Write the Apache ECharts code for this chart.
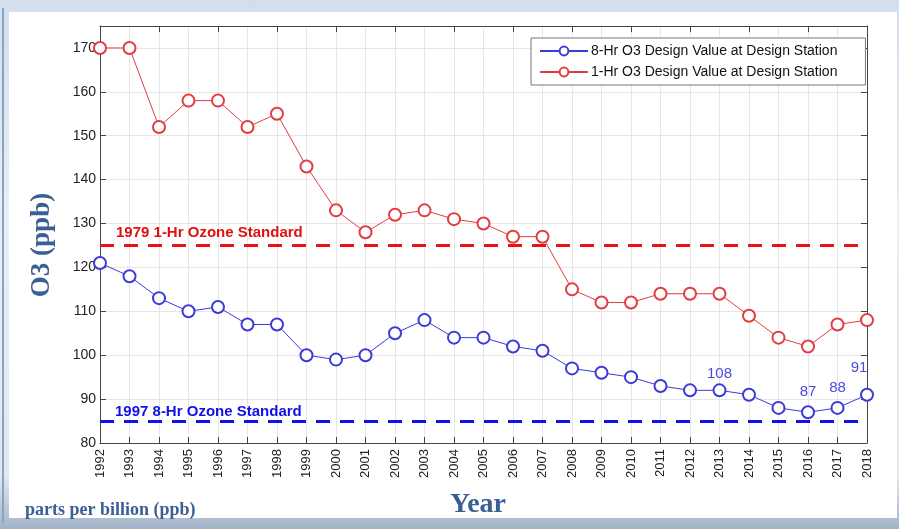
<!DOCTYPE html>
<html>
<head>
<meta charset="utf-8">
<script src="https://cdn.jsdelivr.net/npm/echarts@6/dist/echarts.min.js"></script>
<style>
  html, body { margin: 0; padding: 0; }
  body {
    width: 899px; height: 529px; overflow: hidden; position: relative;
    background: linear-gradient(180deg, #d3deec 0%, #e8eef5 40%, #e2e8f0 90%, #a3b3c8 100%);
  }
  #panel {
    position: absolute; left: 9px; top: 12px; width: 888px; height: 506px;
    background: #ffffff;
  }
  #edge {
    position: absolute; left: 2px; top: 8px; width: 2px; height: 515px; background: #8aa3c4;
  }
  #chart { position: absolute; left: 0; top: 0; width: 899px; height: 529px; }
</style>
</head>
<body>
<div id="edge"></div>
<div id="panel"></div>
<div id="chart"></div>
<script>
  // 年份
  var years = ['1992', '1993', '1994', '1995', '1996', '1997', '1998', '1999', '2000',
    '2001', '2002', '2003', '2004', '2005', '2006', '2007', '2008', '2009', '2010',
    '2011', '2012', '2013', '2014', '2015', '2016', '2017', '2018'];
  // 8小时设计值
  var eightHr = [121, 118, 113, 110, 111, 107, 107, 100, 99, 100, 105, 108, 104, 104,
    102, 101, 97, 96, 95, 93, 92, 92, 91, 88, 87, 88, 91];
  // 1小时设计值
  var oneHr = [170, 170, 152, 158, 158, 152, 155, 143, 133, 128, 132, 133, 131, 130,
    127, 127, 115, 112, 112, 114, 114, 114, 109, 104, 102, 107, 108];
  // 图上的数字标注
  var noteYears = ['2013', '2016', '2017', '2018'];
  var noteTexts = ['108', '87', '88', '91'];
  // 标准线
  var std1Hr = 125;
  var std8Hr = 85;

  var blue = '#3b3bd8';
  var red = '#e23c40';

  var eightData = eightHr.map(function(v, i) {
    var k = noteYears.indexOf(years[i]);
    if (k < 0) return v;
    return {
      value: v,
      label: {
        show: true,
        formatter: noteTexts[k],
        position: 'top',
        distance: years[i] === '2013' ? 2 : 6,
        offset: years[i] === '2018' ? [-8, -6] : [0, 0],
        color: '#4a4ae6',
        fontSize: 15,
        fontFamily: 'Liberation Sans'
      }
    };
  });

  var myChart = echarts.init(document.getElementById('chart'));

  var option = {
    animation: false,
    textStyle: { fontFamily: 'Liberation Sans' },
    grid: { left: 100, right: 32, top: 26, bottom: 86 },
    legend: {
      orient: 'vertical',
      left: 531,
      top: 38,
      padding: [6, 28, 6, 8],
      itemGap: 7,
      itemWidth: 48,
      itemHeight: 11,
      borderColor: '#777',
      borderWidth: 1,
      backgroundColor: '#fff',
      textStyle: { fontSize: 14, color: '#111', padding: [0, 0, 0, -2] },
      data: ['8-Hr O3 Design Value at Design Station', '1-Hr O3 Design Value at Design Station']
    },
    xAxis: [{
      type: 'category',
      data: years,
      boundaryGap: false,
      axisLine: { lineStyle: { color: '#444' } },
      axisTick: { inside: true, length: 6, lineStyle: { color: '#444' } },
      axisLabel: { rotate: 90, fontSize: 13, color: '#222', margin: 6, interval: 0 },
      splitLine: { show: true, lineStyle: { color: '#e6e6e6' } }
    }, {
      type: 'category',
      data: years,
      boundaryGap: false,
      position: 'top',
      axisLine: { lineStyle: { color: '#444' } },
      axisTick: { inside: true, length: 6, lineStyle: { color: '#444' } },
      axisLabel: { show: false }
    }],
    yAxis: [{
      type: 'value',
      min: 80,
      max: 175,
      interval: 10,
      axisLine: { show: true, lineStyle: { color: '#444' } },
      axisTick: { show: true, inside: true, length: 6, lineStyle: { color: '#444' } },
      axisLabel: { fontSize: 14, color: '#222', margin: 4, showMaxLabel: false },
      splitLine: { show: true, lineStyle: { color: '#e6e6e6' } }
    }, {
      type: 'value',
      min: 80,
      max: 175,
      interval: 10,
      position: 'right',
      axisLine: { show: true, lineStyle: { color: '#444' } },
      axisTick: { show: true, inside: true, length: 6, lineStyle: { color: '#444' } },
      axisLabel: { show: false },
      splitLine: { show: false }
    }],
    graphic: [{
      type: 'text',
      x: 42,
      y: 245,
      rotation: Math.PI / 2,
      style: {
        text: 'O3 (ppb)',
        align: 'center',
        verticalAlign: 'middle',
        font: 'bold 27px "Liberation Serif"',
        fill: '#3a5f93'
      }
    }, {
      type: 'text',
      x: 478,
      y: 505,
      style: {
        text: 'Year', align: 'center', verticalAlign: 'middle',
        font: 'bold 28px "Liberation Serif"', fill: '#3a5f93'
      }
    }, {
      type: 'text',
      x: 25,
      y: 510,
      style: {
        text: 'parts per billion (ppb)', verticalAlign: 'middle',
        font: 'bold 18px "Liberation Serif"', fill: '#3a5f93'
      }
    }],
    series: [{
      name: '8-Hr O3 Design Value at Design Station',
      type: 'line',
      data: eightData,
      symbol: 'emptyCircle',
      symbolSize: 12,
      color: blue,
      lineStyle: { width: 1, color: blue },
      itemStyle: { color: blue, borderColor: blue, borderWidth: 1 },
      markLine: {
        silent: true,
        symbol: ['none', 'none'],
        label: {
          show: true,
          position: 'insideStartTop',
          formatter: '1997 8-Hr Ozone Standard',
          color: '#1010e8',
          fontSize: 15,
          fontWeight: 'bold',
          distance: [15, 2]
        },
        lineStyle: { color: '#1010e8', type: [14, 10], width: 3 },
        data: [{ yAxis: std8Hr }]
      }
    }, {
      name: '1-Hr O3 Design Value at Design Station',
      type: 'line',
      data: oneHr,
      symbol: 'emptyCircle',
      symbolSize: 12,
      color: red,
      lineStyle: { width: 1, color: red },
      itemStyle: { color: red, borderColor: red, borderWidth: 1 },
      markLine: {
        silent: true,
        symbol: ['none', 'none'],
        label: {
          show: true,
          position: 'insideStartTop',
          formatter: '1979 1-Hr Ozone Standard',
          color: '#e01010',
          fontSize: 15,
          fontWeight: 'bold',
          distance: [16, 5]
        },
        lineStyle: { color: '#e81414', type: [14, 10], width: 3 },
        data: [{ yAxis: std1Hr }]
      }
    }]
  };

  myChart.setOption(option);
</script>
</body>
</html>
